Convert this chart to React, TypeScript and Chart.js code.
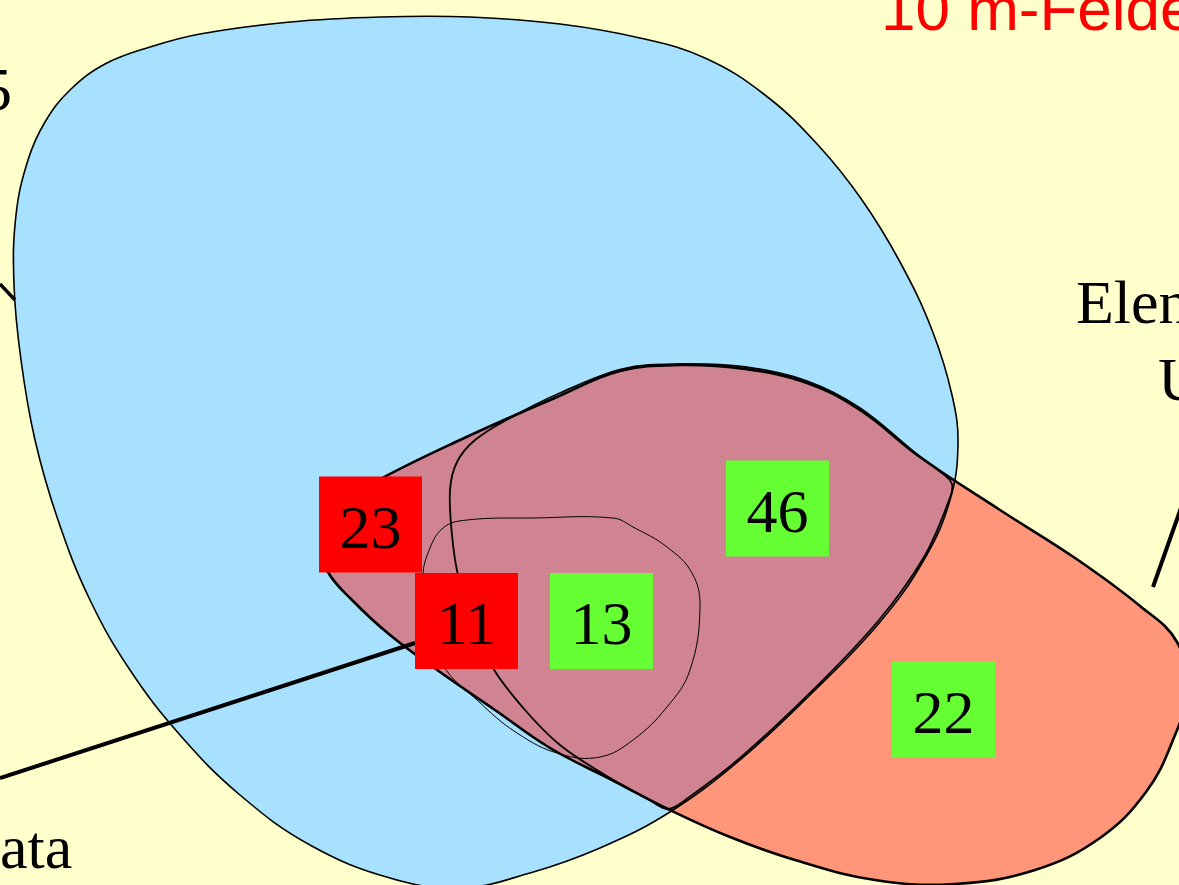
import React, { useEffect, useRef } from 'react';
import { Chart, registerables } from 'chart.js';

Chart.register(...registerables);

const W = 1179;
const H = 885;

// ---- outlines (diagram coordinates, y grows downward) ----
const blueSetOutline: number[][] = [
  [470, 17], [560, 24], [640, 38], [705, 58], [765, 95], [818, 145], [862, 200], [900, 262],
  [932, 330], [952, 395], [958, 445], [950, 500], [925, 558], [880, 622], [812, 693], [740, 760],
  [670, 812], [600, 848], [530, 873], [460, 888], [390, 878], [310, 845], [240, 795], [180, 735],
  [130, 670], [90, 600], [58, 520], [35, 440], [21, 360], [14, 285], [16, 215], [28, 160],
  [45, 122], [70, 90], [105, 64], [150, 47], [200, 34], [290, 22], [380, 17],
];

const salmonSetOutline: number[][] = [
  [322, 546], [336, 508], [375, 482], [460, 440], [557, 397], [620, 371], [680, 365], [745, 369],
  [807, 383], [860, 410], [920, 457], [1000, 510], [1075, 558], [1140, 606], [1177, 642], [1187, 690],
  [1173, 740], [1146, 792], [1100, 838], [1035, 870], [955, 884], [875, 880], [795, 860], [730, 837],
  [670, 810], [610, 779], [550, 748], [495, 710], [440, 672], [390, 635], [352, 600], [328, 572],
];

const innerSetOutline: number[][] = [
  [450, 490], [452, 535], [458, 575], [472, 620], [493, 668], [525, 710], [560, 745], [605, 775],
  [648, 799], [668, 809], [688, 798], [740, 758], [812, 691], [879, 620], [924, 557], [948, 503],
  [952, 484], [938, 470], [918, 455], [860, 408], [807, 381], [745, 367], [680, 364], [622, 369],
  [560, 393], [510, 418], [475, 440], [457, 462],
];

const coreSetOutline: number[][] = [
  [613, 518], [533, 518], [467, 520], [443, 528], [428, 553], [423, 578], [428, 615], [443, 665],
  [477, 700], [517, 733], [560, 754], [600, 757], [633, 740], [667, 707], [690, 670], [700, 607],
  [692, 573], [667, 547], [633, 527],
];

const leaderA: number[][] = [[0, 778], [415, 643]];
const leaderB: number[][] = [[0, 284], [15, 300]];
const leaderC: number[][] = [[1153, 587], [1182, 505]];

// ---- region counts ----
const regionCounts = [23, 11, 13, 46, 22];
const regionKind = ['neg', 'neg', 'pos', 'pos', 'pos'];
const regionCenters: number[][] = [
  [370.5, 524.5], [466.5, 621], [601.5, 621], [777.5, 508.5], [943.5, 709.5],
];

// ---- free text labels ----
const labelTexts = ['10 m-Felde', 'Elen', 'U', 'ata', '5'];
const labelAnchors: number[][] = [[881, 30], [1076, 323], [1158, 400], [0, 868], [12, 110]];

const toPts = (arr: number[][]) => arr.map(([x, y]) => ({ x, y }));

export default function App() {
  const ref = useRef<HTMLCanvasElement | null>(null);

  useEffect(() => {
    if (!ref.current) return;

    const shapeBase = {
      pointRadius: 0,
      capBezierPoints: false,
      spanGaps: true,
      tension: 0.4,
      clip: false as any,
    };

    const datasets: any[] = [
      { role: 'blueFill', closed: true, order: 20, data: toPts(blueSetOutline), fill: 'shape', backgroundColor: '#A8E1FE', borderWidth: 0, ...shapeBase },
      { role: 'salmonFill', closed: true, order: 19, data: toPts(salmonSetOutline), fill: 'shape', backgroundColor: '#FF967A', borderWidth: 0, ...shapeBase },
      { role: 'overlap', closed: true, order: 18, data: toPts(salmonSetOutline), fill: 'shape', backgroundColor: '#D08492', borderWidth: 0, ...shapeBase },
      { role: 'blueStroke', closed: true, order: 17, data: toPts(blueSetOutline), fill: false, borderColor: '#000', borderWidth: 1.6, ...shapeBase },
      { role: 'salmonStroke', closed: true, order: 16, data: toPts(salmonSetOutline), fill: false, borderColor: '#000', borderWidth: 2.6, ...shapeBase },
      { role: 'inner', closed: true, order: 15, data: toPts(innerSetOutline), fill: false, borderColor: '#000', borderWidth: 1.8, ...shapeBase, tension: 0.35 },
      { role: 'core', closed: true, order: 14, data: toPts(coreSetOutline), fill: false, borderColor: '#000', borderWidth: 1, ...shapeBase },
      { role: 'leader', order: 13, data: toPts(leaderA), fill: false, borderColor: '#000', borderWidth: 4, pointRadius: 0, tension: 0, clip: false },
      { role: 'leader', order: 12, data: toPts(leaderB), fill: false, borderColor: '#000', borderWidth: 3.5, pointRadius: 0, tension: 0, clip: false },
      { role: 'leader', order: 11, data: toPts(leaderC), fill: false, borderColor: '#000', borderWidth: 4, pointRadius: 0, tension: 0, clip: false },
    ];

    const blueIndex = 0;

    const loopPlugin = {
      id: 'closedLoops',
      afterDatasetUpdate(chart: any, args: any) {
        const ds = chart.data.datasets[args.index];
        if (ds && ds.closed) {
          const line = args.meta.dataset;
          line._loop = true;
          line._fullLoop = true;
        }
      },
      afterDatasetDraw(chart: any, args: any) {
        const ds = chart.data.datasets[args.index];
        const ctx = chart.ctx;
        if (ds.role === 'salmonFill') {
          const blue = chart.getDatasetMeta(blueIndex).dataset;
          ctx.save();
          ctx.beginPath();
          blue.path(ctx);
          ctx.closePath();
          ctx.clip();
        } else if (ds.role === 'overlap') {
          ctx.restore();
        }
      },
    };

    const labelPlugin = {
      id: 'labels',
      afterDatasetsDraw(chart: any) {
        const ctx = chart.ctx;
        const xs = chart.scales.x;
        const ys = chart.scales.y;
        const halfW = 51.5;
        const halfH = 48;
        ctx.save();
        regionCounts.forEach((v, i) => {
          const [cx, cy] = regionCenters[i];
          const x0 = xs.getPixelForValue(cx - halfW);
          const x1 = xs.getPixelForValue(cx + halfW);
          const y0 = ys.getPixelForValue(cy - halfH);
          const y1 = ys.getPixelForValue(cy + halfH);
          ctx.fillStyle = regionKind[i] === 'neg' ? '#FF0000' : '#66FF33';
          ctx.fillRect(x0, y0, x1 - x0, y1 - y0);
          ctx.fillStyle = '#000';
          ctx.font = '62px "Liberation Serif", "Times New Roman", serif';
          ctx.textAlign = 'center';
          ctx.textBaseline = 'alphabetic';
          ctx.fillText(String(v), xs.getPixelForValue(cx), ys.getPixelForValue(cy + 23));
        });
        labelTexts.forEach((t, i) => {
          const [ax, ay] = labelAnchors[i];
          if (i === 0) {
            ctx.font = '62px "Liberation Sans", Arial, sans-serif';
            ctx.fillStyle = '#FF0000';
          } else {
            ctx.font = '62px "Liberation Serif", "Times New Roman", serif';
            ctx.fillStyle = '#000';
          }
          ctx.textAlign = i === 4 ? 'right' : 'left';
          ctx.textBaseline = 'alphabetic';
          ctx.fillText(t, xs.getPixelForValue(ax), ys.getPixelForValue(ay));
        });
        ctx.restore();
      },
    };

    const chart = new Chart(ref.current, {
      type: 'line',
      data: { datasets },
      options: {
        animation: false,
        responsive: false,
        devicePixelRatio: 1,
        events: [],
        layout: { padding: 0 },
        plugins: {
          legend: { display: false },
          tooltip: { enabled: false },
          title: { display: false },
        },
        elements: { point: { radius: 0 } },
        scales: {
          x: { type: 'linear', min: 0, max: W, display: false },
          y: { type: 'linear', min: 0, max: H, reverse: true, display: false },
        },
      } as any,
      plugins: [loopPlugin, labelPlugin],
    });

    return () => chart.destroy();
  }, []);

  return (
    <div
      style={{
        position: 'absolute',
        left: 0,
        top: 0,
        width: W,
        height: H,
        background: '#FFFFCC',
        overflow: 'hidden',
      }}
    >
      <canvas ref={ref} width={W} height={H} style={{ display: 'block' }} />
    </div>
  );
}
